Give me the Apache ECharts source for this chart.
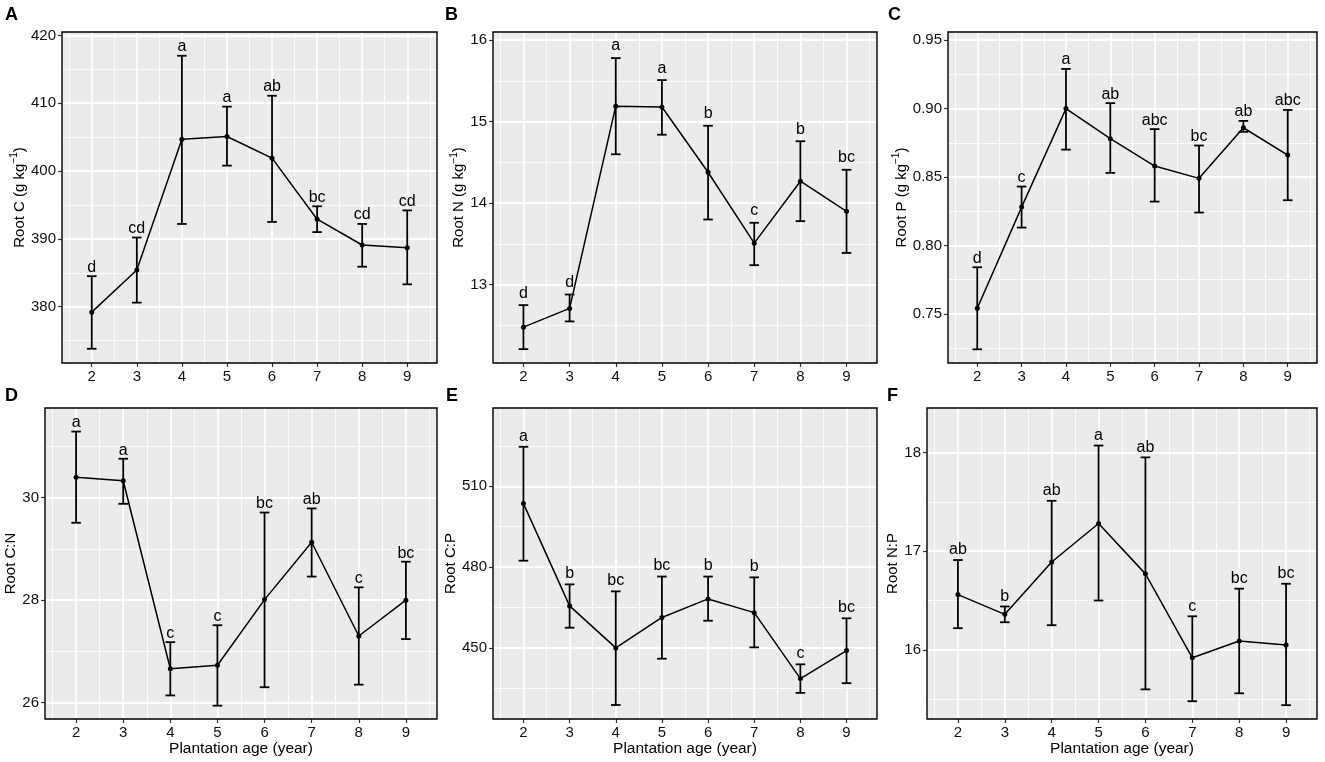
<!DOCTYPE html>
<html><head><meta charset="utf-8">
<script src="https://cdn.jsdelivr.net/npm/echarts@6/dist/echarts.min.js"></script>
<style>html,body{margin:0;padding:0;background:#fff}#c{width:1325px;height:762px}</style>
</head><body><div id="c"></div>
<script>
// ---------------- DATA ----------------
const ages = [2, 3, 4, 5, 6, 7, 8, 9];
const xTicks = [2, 3, 4, 5, 6, 7, 8, 9];

const rootC_mean  = [379.2, 385.4, 404.7, 405.1, 401.9, 392.9, 389.1, 388.7];
const rootC_lower = [373.8, 380.6, 392.2, 400.8, 392.5, 391.0, 385.9, 383.3];
const rootC_upper = [384.5, 390.2, 417.0, 409.5, 411.1, 394.8, 392.2, 394.2];
const rootC_letters = ['d', 'cd', 'a', 'a', 'ab', 'bc', 'cd', 'cd'];
const rootC_ticks = [380, 390, 400, 410, 420];

const rootN_mean  = [12.48, 12.71, 15.19, 15.18, 14.38, 13.51, 14.27, 13.90];
const rootN_lower = [12.21, 12.55, 14.60, 14.84, 13.80, 13.24, 13.78, 13.39];
const rootN_upper = [12.75, 12.88, 15.78, 15.51, 14.95, 13.76, 14.76, 14.41];
const rootN_letters = ['d', 'd', 'a', 'a', 'b', 'c', 'b', 'bc'];
const rootN_ticks = [13, 14, 15, 16];

const rootP_mean  = [0.754, 0.828, 0.900, 0.878, 0.858, 0.849, 0.886, 0.866];
const rootP_lower = [0.724, 0.813, 0.870, 0.853, 0.832, 0.824, 0.883, 0.833];
const rootP_upper = [0.784, 0.843, 0.929, 0.904, 0.885, 0.873, 0.891, 0.899];
const rootP_letters = ['d', 'c', 'a', 'ab', 'abc', 'bc', 'ab', 'abc'];
const rootP_ticks = [0.75, 0.80, 0.85, 0.90, 0.95];

const rootCN_mean  = [30.40, 30.33, 26.66, 26.73, 28.01, 29.13, 27.30, 28.00];
const rootCN_lower = [29.51, 29.88, 26.14, 25.94, 26.30, 28.46, 26.35, 27.24];
const rootCN_upper = [31.29, 30.76, 27.18, 27.51, 29.71, 29.79, 28.25, 28.75];
const rootCN_letters = ['a', 'a', 'c', 'c', 'bc', 'ab', 'c', 'bc'];
const rootCN_ticks = [26, 28, 30];

const rootCP_mean  = [503.6, 465.6, 450.0, 461.3, 468.2, 463.1, 438.6, 449.0];
const rootCP_lower = [482.4, 457.5, 428.8, 446.0, 460.1, 450.2, 433.3, 436.9];
const rootCP_upper = [524.7, 473.6, 471.0, 476.5, 476.5, 476.2, 443.9, 461.0];
const rootCP_letters = ['a', 'b', 'bc', 'bc', 'b', 'b', 'c', 'bc'];
const rootCP_ticks = [450, 480, 510];

const rootNP_mean  = [16.56, 16.36, 16.89, 17.28, 16.77, 15.92, 16.09, 16.05];
const rootNP_lower = [16.22, 16.28, 16.25, 16.50, 15.60, 15.48, 15.56, 15.44];
const rootNP_upper = [16.91, 16.44, 17.51, 18.07, 17.95, 16.34, 16.62, 16.67];
const rootNP_letters = ['ab', 'b', 'ab', 'a', 'ab', 'c', 'bc', 'bc'];
const rootNP_ticks = [16, 17, 18];

const xAxisTitle = 'Plantation age (year)';

// ---------------- LAYOUT / STYLE ----------------
const FONT = 'Liberation Sans, Arial, Helvetica, sans-serif';
const panels = [
  {tag: 'A', name: '{t|Root C (g kg}{s|−1}{t|)}', mean: rootC_mean, lo: rootC_lower, hi: rootC_upper, letters: rootC_letters, ticks: rootC_ticks,
   min: 371.7, max: 420.5, split: 5, dec: 0, grid: {left: 62, top: 32, width: 375, height: 331}, gap: 31, lgap: 1, tagPos: [5, 6], xTitle: false},
  {tag: 'B', name: '{t|Root N (g kg}{s|−1}{t|)}', mean: rootN_mean, lo: rootN_lower, hi: rootN_upper, letters: rootN_letters, ticks: rootN_ticks,
   min: 12.04, max: 16.10, split: 5, dec: 0, grid: {left: 493, top: 32, width: 384, height: 331}, gap: 22, lgap: 4, tagPos: [445, 6], xTitle: false},
  {tag: 'C', name: '{t|Root P (g kg}{s|−1}{t|)}', mean: rootP_mean, lo: rootP_lower, hi: rootP_upper, letters: rootP_letters, ticks: rootP_ticks,
   min: 0.714, max: 0.956, split: 5, dec: 2, grid: {left: 948, top: 32, width: 369, height: 331}, gap: 36.5, lgap: 1, tagPos: [888, 6], xTitle: false},
  {tag: 'D', name: '{t|Root C:N}', mean: rootCN_mean, lo: rootCN_lower, hi: rootCN_upper, letters: rootCN_letters, ticks: rootCN_ticks,
   min: 25.68, max: 31.75, split: 3, dec: 0, grid: {left: 45, top: 408, width: 392, height: 311}, gap: 22, lgap: 0.5, tagPos: [5, 387], xTitle: true},
  {tag: 'E', name: '{t|Root C:P}', mean: rootCP_mean, lo: rootCP_lower, hi: rootCP_upper, letters: rootCP_letters, ticks: rootCP_ticks,
   min: 423.6, max: 539.1, split: 4, dec: 0, grid: {left: 493, top: 408, width: 384, height: 311}, gap: 30.5, lgap: 2.5, tagPos: [446, 387], xTitle: true},
  {tag: 'F', name: '{t|Root N:P}', mean: rootNP_mean, lo: rootNP_lower, hi: rootNP_upper, letters: rootNP_letters, ticks: rootNP_ticks,
   min: 15.30, max: 18.45, split: 3, dec: 0, grid: {left: 927, top: 408, width: 390, height: 311}, gap: 21.5, lgap: 2, tagPos: [887, 387], xTitle: true}
];

const grids = [], xAxes = [], yAxes = [], series = [], graphics = [];

function errRender(letters, lgap) {
  return function (params, api) {
    const x = api.value(0), lo = api.value(1), hi = api.value(2);
    const pLo = api.coord([x, lo]), pHi = api.coord([x, hi]);
    const w = 4.8;
    const st = {stroke: '#000', lineWidth: 1.8, fill: null};
    return {type: 'group', children: [
      {type: 'line', shape: {x1: pLo[0], y1: pLo[1], x2: pHi[0], y2: pHi[1]}, style: st},
      {type: 'line', shape: {x1: pLo[0] - w, y1: pLo[1], x2: pLo[0] + w, y2: pLo[1]}, style: st},
      {type: 'line', shape: {x1: pHi[0] - w, y1: pHi[1], x2: pHi[0] + w, y2: pHi[1]}, style: st},
      {type: 'text', x: pHi[0], y: pHi[1] - lgap,
       style: {text: letters[params.dataIndex], align: 'center', verticalAlign: 'bottom',
               textAlign: 'center', textVerticalAlign: 'bottom',
               fontSize: 16, fontFamily: FONT, fill: '#000'}}
    ]};
  };
}

panels.forEach((p, i) => {
  grids.push(Object.assign({show: true, backgroundColor: '#EBEBEB', borderWidth: 0, containLabel: false}, p.grid));
  xAxes.push({
    type: 'value', gridIndex: i, min: 1.34, max: 9.66, splitNumber: 8,
    name: p.xTitle ? xAxisTitle : '', nameLocation: 'middle', nameGap: 22,
    nameTextStyle: {fontSize: 15.5, color: '#000', fontFamily: FONT},
    axisLine: {show: false},
    axisTick: {show: true, customValues: xTicks, length: 4, lineStyle: {color: '#333', width: 1.2}},
    axisLabel: {customValues: xTicks, margin: 6, fontSize: 15, color: '#111', fontFamily: FONT},
    splitLine: {show: true, lineStyle: {color: '#fff', width: 1.8}},
    minorTick: {show: false, splitNumber: 2},
    minorSplitLine: {show: true, lineStyle: {color: '#fff', width: 0.9}}
  });
  yAxes.push({
    type: 'value', gridIndex: i, min: p.min, max: p.max, splitNumber: p.split,
    name: p.name, nameLocation: 'middle', nameGap: p.gap, nameRotate: 90,
    nameTextStyle: {color: '#000', fontFamily: FONT,
      rich: {t: {fontSize: 15, color: '#000', fontFamily: FONT, lineHeight: 20},
             s: {fontSize: 10, color: '#000', fontFamily: FONT, verticalAlign: 'top', lineHeight: 20}}},
    axisLine: {show: false},
    axisTick: {show: true, customValues: p.ticks, length: 4, lineStyle: {color: '#333', width: 1.2}},
    axisLabel: {customValues: p.ticks, margin: 6, fontSize: 15, color: '#111', fontFamily: FONT,
      formatter: v => v.toFixed(p.dec)},
    splitLine: {show: true, lineStyle: {color: '#fff', width: 1.8}},
    minorTick: {show: false, splitNumber: 2},
    minorSplitLine: {show: true, lineStyle: {color: '#fff', width: 0.9}}
  });
  series.push({
    type: 'custom', xAxisIndex: i, yAxisIndex: i, z: 3,
    renderItem: errRender(p.letters, p.lgap),
    data: ages.map((a, k) => [a, p.lo[k], p.hi[k]]),
    silent: true
  });
  series.push({
    type: 'line', xAxisIndex: i, yAxisIndex: i, z: 4,
    data: ages.map((a, k) => [a, p.mean[k]]),
    symbol: 'circle', symbolSize: 5, showSymbol: true,
    itemStyle: {color: '#000'}, lineStyle: {color: '#000', width: 1.5},
    silent: true, animation: false
  });
  graphics.push({type: 'rect', z: 100, silent: true,
    shape: {x: p.grid.left, y: p.grid.top, width: p.grid.width, height: p.grid.height},
    style: {fill: null, stroke: '#000', lineWidth: 1.4}});
  graphics.push({type: 'text', z: 100, left: p.tagPos[0], top: p.tagPos[1],
    style: {text: p.tag, fontSize: 18, fontWeight: 'bold', fontFamily: FONT, fill: '#000'}});
});

const chart = echarts.init(document.getElementById('c'), null, {renderer: 'canvas'});
chart.setOption({
  animation: false,
  backgroundColor: '#fff',
  grid: grids, xAxis: xAxes, yAxis: yAxes, series: series, graphic: graphics
});
</script></body></html>
